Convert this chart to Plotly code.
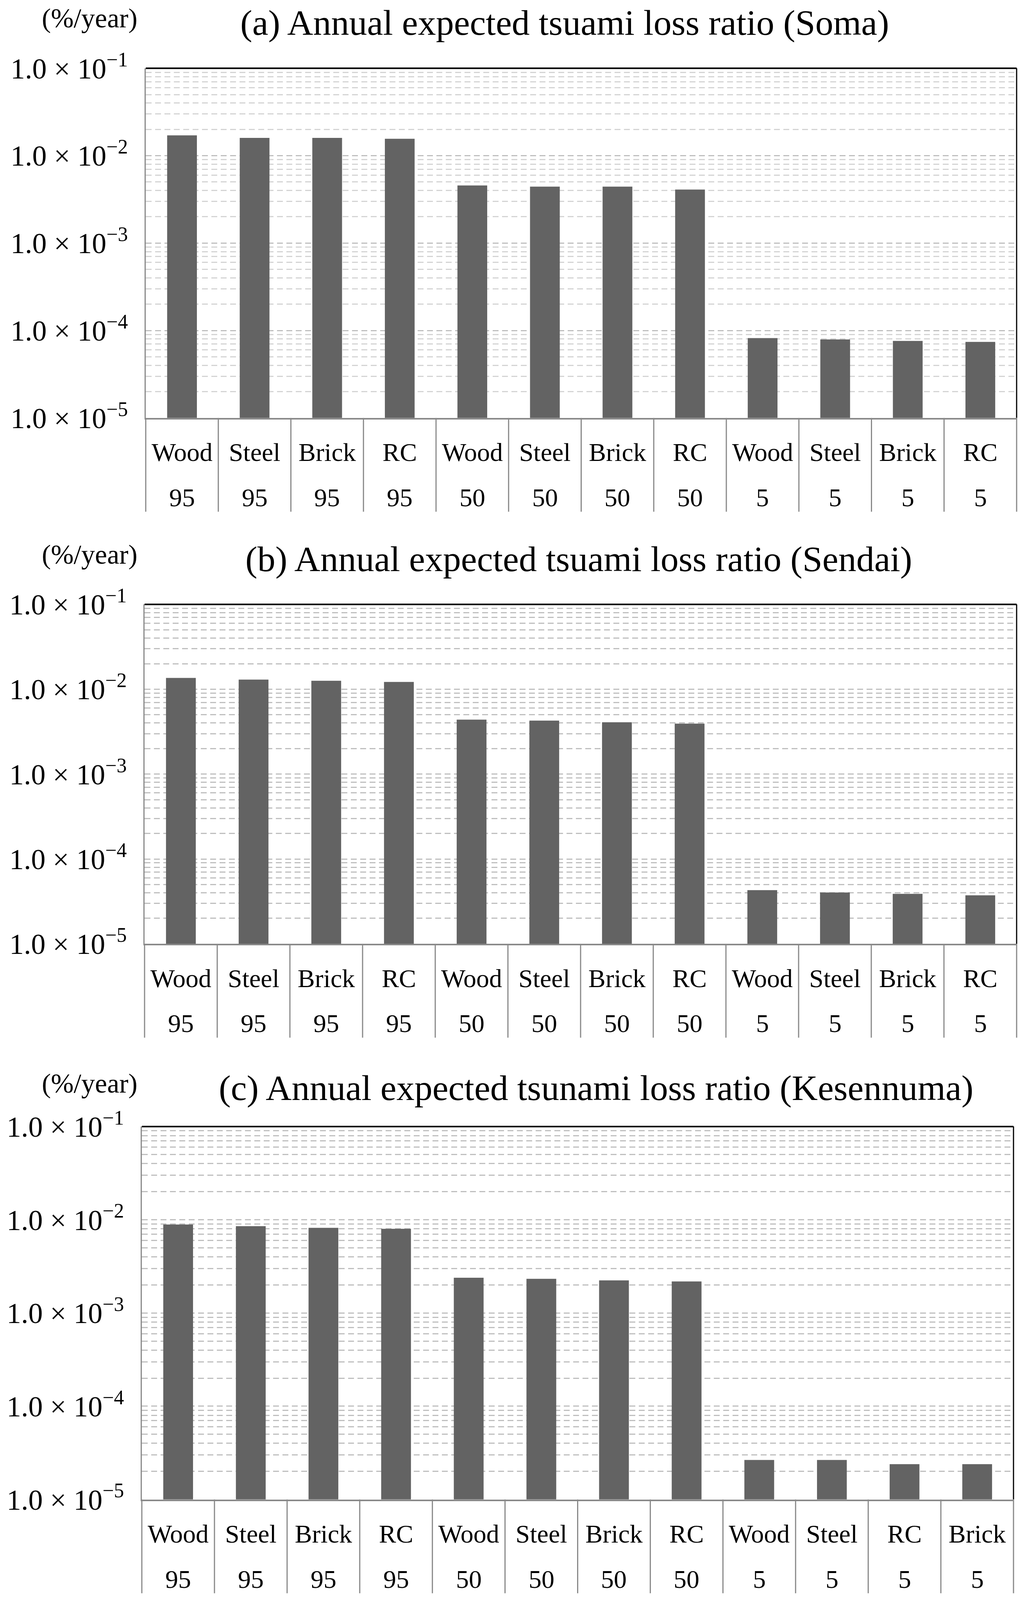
import plotly.graph_objects as go

W, H = 2626, 4265  # reference frame used to place the panels (fractions of the page)

# ---------------- data ----------------
materials_ab = ["Wood", "Steel", "Brick", "RC", "Wood", "Steel", "Brick", "RC", "Wood", "Steel", "Brick", "RC"]
materials_c = ["Wood", "Steel", "Brick", "RC", "Wood", "Steel", "Brick", "RC", "Wood", "Steel", "RC", "Brick"]
periods = ["95", "95", "95", "95", "50", "50", "50", "50", "5", "5", "5", "5"]

soma = [1.71e-2, 1.60e-2, 1.60e-2, 1.56e-2, 4.57e-3, 4.43e-3, 4.43e-3, 4.10e-3, 8.2e-5, 7.9e-5, 7.6e-5, 7.4e-5]
sendai = [1.36e-2, 1.30e-2, 1.26e-2, 1.22e-2, 4.38e-3, 4.27e-3, 4.08e-3, 3.93e-3, 4.3e-5, 4.03e-5, 3.88e-5, 3.73e-5]
kesennuma = [8.9e-3, 8.55e-3, 8.2e-3, 8.0e-3, 2.39e-3, 2.33e-3, 2.24e-3, 2.18e-3, 2.65e-5, 2.65e-5, 2.39e-5, 2.39e-5]

titles = [
    "(a) Annual expected tsuami loss ratio (Soma)",
    "(b) Annual expected tsuami loss ratio (Sendai)",
    "(c) Annual expected tsunami loss ratio (Kesennuma)",
]
unit_label = "(%/year)"

ytick_vals = [1e-5, 1e-4, 1e-3, 1e-2, 1e-1]
ytick_text = ["1.0 × 10<sup>−5</sup>", "1.0 × 10<sup>−4</sup>", "1.0 × 10<sup>−3</sup>",
              "1.0 × 10<sup>−2</sup>", "1.0 × 10<sup>−1</sup>"]
minor_vals = [k * 10.0 ** e for e in range(-5, -1) for k in range(2, 10)]

# ---------------- layout geometry (pixels in the 2626x4265 frame) ----------------
panels = [
    dict(vals=soma, mats=materials_ab, left=373, right=2602, top=182, bottom=1114,
         title_cx=1445, title_cy=60, unit_cy=48, major="#bfbfbf", minor="#d4d4d4"),
    dict(vals=sendai, mats=materials_ab, left=370, right=2602, top=1611, bottom=2516,
         title_cx=1482, title_cy=1490, unit_cy=1478, major="#bfbfbf", minor="#bfbfbf"),
    dict(vals=kesennuma, mats=materials_c, left=363, right=2594, top=3003, bottom=3997,
         title_cx=1525, title_cy=2900, unit_cy=2888, major="#bfbfbf", minor="#bfbfbf"),
]

FONT = "Liberation Serif"
BAR_COLOR = "#636363"
AXIS_GRAY = "#898989"
DASH = "15px,9px"

fig = go.Figure()
shapes = []
annotations = []
layout_axes = {}

for k, p in enumerate(panels):
    n = k + 1
    xs = "x" if n == 1 else f"x{n}"
    ys = "y" if n == 1 else f"y{n}"
    xname = "xaxis" if n == 1 else f"xaxis{n}"
    yname = "yaxis" if n == 1 else f"yaxis{n}"
    idx = list(range(len(p["vals"])))
    plot_h = p["bottom"] - p["top"]

    fig.add_trace(go.Bar(x=idx, y=p["vals"], xaxis=xs, yaxis=ys, width=0.41,
                         marker=dict(color=BAR_COLOR, line=dict(width=0)),
                         showlegend=False, hoverinfo="skip"))

    layout_axes[xname] = dict(
        domain=[p["left"] / W, p["right"] / W], anchor=ys, automargin=False,
        range=[-0.5, len(idx) - 0.5], tickmode="array", tickvals=idx, ticktext=p["mats"],
        showgrid=False, zeroline=False, showline=True, linecolor=AXIS_GRAY, linewidth=4,
        ticks="", tickfont=dict(family=FONT, size=66, color="black"), ticklabelstandoff=27,
        fixedrange=True,
    )
    layout_axes[yname] = dict(
        domain=[1 - p["bottom"] / H, 1 - p["top"] / H], anchor=xs, automargin=False,
        type="log", range=[-5, -1], tickmode="array", tickvals=ytick_vals, ticktext=ytick_text,
        showgrid=True, gridcolor=p["major"], griddash=DASH, gridwidth=3,
        minor=dict(tickmode="array", tickvals=minor_vals, showgrid=True, gridcolor=p["minor"],
                   griddash=DASH, gridwidth=3, ticks=""),
        zeroline=False, showline=True, linecolor=AXIS_GRAY, linewidth=2.5,
        ticks="", tickfont=dict(family=FONT, size=74, color="black"), ticklabelstandoff=28,
        fixedrange=True,
    )

    # plot frame (top & right black borders)
    shapes.append(dict(type="line", xref=f"{xs} domain", yref=f"{ys} domain",
                       x0=0, x1=1, y0=1, y1=1, line=dict(color="black", width=4)))
    shapes.append(dict(type="line", xref=f"{xs} domain", yref=f"{ys} domain",
                       x0=1, x1=1, y0=0, y1=1, line=dict(color="black", width=3)))
    # category dividers below the axis
    drop = 250 / plot_h
    ncat = len(idx)
    for i in range(ncat + 1):
        shapes.append(dict(type="line", xref=f"{xs} domain", yref=f"{ys} domain",
                           x0=i / ncat, x1=i / ncat, y0=0, y1=-drop,
                           line=dict(color=AXIS_GRAY, width=3)))
    # second label row (return period)
    for i, lab in zip(idx, periods):
        annotations.append(dict(x=i, xref=xs, y=-212 / plot_h, yref=f"{ys} domain",
                                text=lab, showarrow=False, xanchor="center", yanchor="middle",
                                font=dict(family=FONT, size=66, color="black")))
    # titles
    annotations.append(dict(x=p["title_cx"] / W, y=1 - p["title_cy"] / H, xref="paper", yref="paper",
                            text=titles[k], showarrow=False, xanchor="center", yanchor="middle",
                            font=dict(family=FONT, size=92, color="black")))
    annotations.append(dict(x=230 / W, y=1 - p["unit_cy"] / H, xref="paper", yref="paper",
                            text=unit_label, showarrow=False, xanchor="center", yanchor="middle",
                            font=dict(family=FONT, size=70, color="black")))

fig.update_layout(
    autosize=True, margin=dict(l=0, r=0, t=0, b=0, autoexpand=False),
    paper_bgcolor="white", plot_bgcolor="white",
    showlegend=False, bargap=0.59,
    shapes=shapes, annotations=annotations,
    **layout_axes,
)

post = (
    "document.body.style.margin='0';"
    "document.body.style.overflow='hidden';"
    "var gd=document.getElementById('{plot_id}');"
    "gd.style.width='100vw';gd.style.height='100vh';"
    "Plotly.Plots.resize(gd);"
)

fig.write_html("out.html", default_width="100vw", default_height="100vh",
               config={"responsive": True, "displayModeBar": False}, post_script=post)
